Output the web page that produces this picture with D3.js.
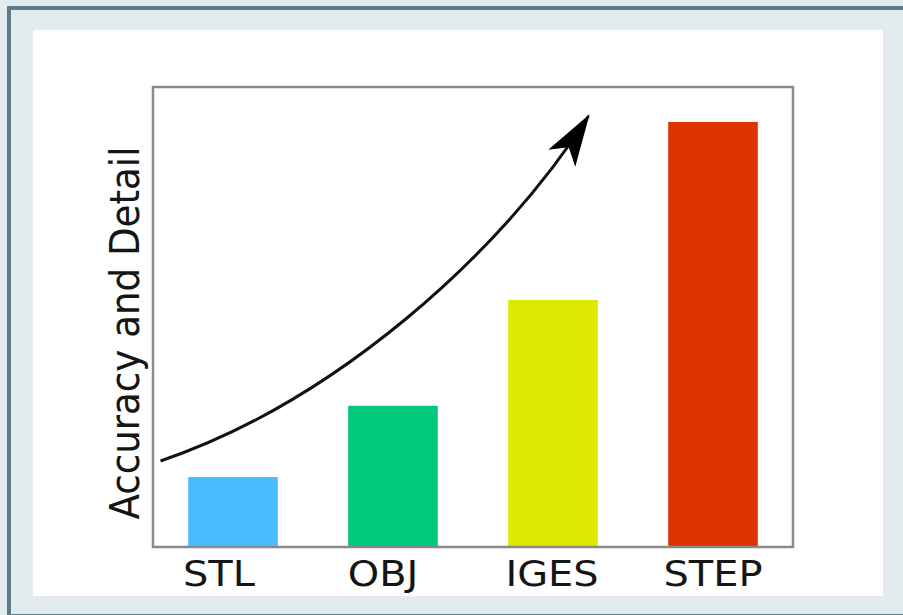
<!DOCTYPE html>
<html>
<head>
<meta charset="utf-8">
<script src="https://cdn.jsdelivr.net/npm/d3@7"></script>
<style>
  body { margin: 0; background: #e3ecec; }
  svg { display: block; }
</style>
</head>
<body>
<svg width="903" height="615"></svg>
<script>
  const formats = ['STL', 'OBJ', 'IGES', 'STEP'];
  const detail = [15.2, 30.7, 53.7, 92.4];
  const colors = ['#47bcff', '#00c97b', '#dde900', '#dd3300'];
  const yLabel = 'Accuracy and Detail';
  // trend arrow: cubic start, two controls, end in data terms (band index, value)
  const trend = [[-0.453, 18.7], [0.628, 31.5], [1.672, 63.5], [2.222, 93.7]];

  (function () {
  const svg = d3.select('svg');

  svg.append('rect')
    .attr('x', 0).attr('y', 0).attr('width', 903).attr('height', 615)
    .attr('fill', '#e3ecec');
  svg.append('rect')
    .attr('x', 9).attr('y', 8).attr('width', 1000).attr('height', 608)
    .attr('fill', 'none').attr('stroke', '#5f7d88').attr('stroke-width', 4);
  svg.append('rect')
    .attr('x', 33).attr('y', 30).attr('width', 850).attr('height', 566)
    .attr('fill', '#fff');

  const plot = {left: 153, right: 793, top: 87, bottom: 547};

  const x = d3.scaleBand()
    .domain(formats)
    .range([plot.left, plot.right])
    .paddingInner(0.44)
    .paddingOuter(0.22);

  const y = d3.scaleLinear()
    .domain([0, 100])
    .range([plot.bottom, plot.top]);

  svg.selectAll('.bar').data(formats)
    .enter().append('rect')
      .attr('class', 'bar')
      .attr('x', d => x(d))
      .attr('y', (d, i) => y(detail[i]))
      .attr('width', x.bandwidth())
      .attr('height', (d, i) => plot.bottom - y(detail[i]))
      .attr('fill', (d, i) => colors[i]);

  svg.append('rect')
    .attr('x', plot.left).attr('y', plot.top)
    .attr('width', plot.right - plot.left).attr('height', plot.bottom - plot.top)
    .attr('fill', 'none').attr('stroke', '#8a8a8a').attr('stroke-width', 2.5);

  // labels sit a little left of the bar centres in the original
  const nudge = [-14, -10, -1, 0];
  const xAxis = svg.append('g')
    .attr('transform', `translate(0,${plot.bottom})`)
    .call(d3.axisBottom(x).tickSize(0).tickPadding(14));
  xAxis.select('.domain').remove();
  xAxis.selectAll('.tick')
    .attr('transform', (d, i) => `translate(${x(d) + x.bandwidth() / 2 + nudge[i]},0)`);
  xAxis.selectAll('text')
    .attr('fill', '#151515')
    .attr('font-family', 'DejaVu Sans, Verdana, sans-serif')
    .attr('font-size', 35)
    .attr('transform', 'scale(1.14,1)');

  svg.append('text')
    .attr('transform', 'translate(139,333) rotate(-90)')
    .attr('text-anchor', 'middle')
    .attr('font-family', 'DejaVu Sans, Verdana, sans-serif')
    .attr('font-size', 41)
    .attr('textLength', 373)
    .attr('lengthAdjust', 'spacingAndGlyphs')
    .attr('fill', '#151515')
    .text(yLabel);

  // arrow
  const step = x.step();
  const px = i => x(formats[0]) + x.bandwidth() / 2 + i * step;
  const pts = trend.map(([i, v]) => [px(i), y(v)]);

  svg.append('defs').append('marker')
    .attr('id', 'head')
    .attr('markerUnits', 'userSpaceOnUse')
    .attr('viewBox', '-56 -20 60 40')
    .attr('markerWidth', 60).attr('markerHeight', 40)
    .attr('refX', 0).attr('refY', 0)
    .attr('orient', 'auto')
    .append('path')
      .attr('d', 'M2,0 L-50,-16 L-37,0 L-50,16 Z')
      .attr('fill', '#000');

  const p = d3.path();
  p.moveTo(pts[0][0], pts[0][1]);
  p.bezierCurveTo(pts[1][0], pts[1][1], pts[2][0], pts[2][1], pts[3][0], pts[3][1]);

  svg.append('path')
    .attr('d', p.toString())
    .attr('fill', 'none')
    .attr('stroke', '#111')
    .attr('stroke-width', 3)
    .attr('marker-end', 'url(#head)');
  })();
</script>
</body>
</html>
